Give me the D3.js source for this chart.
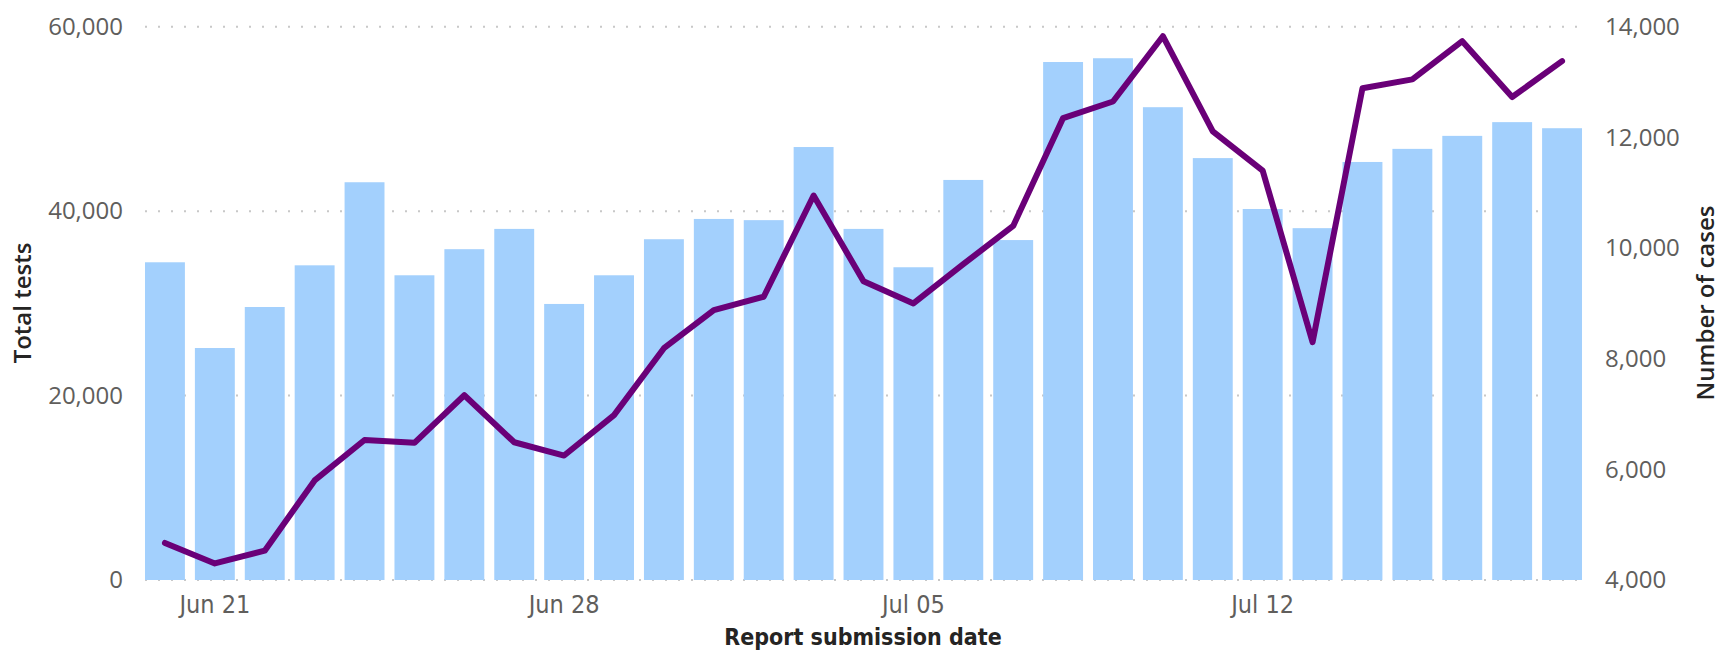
<!DOCTYPE html>
<html>
<head>
<meta charset="utf-8">
<script src="https://d3js.org/d3.v7.min.js"></script>
<style>
  body { margin: 0; background: #ffffff; }
  .tick text { fill: #605E5C; }
</style>
</head>
<body>
<div id="chart"></div>
<script>
// data
var dates = ["Jun 20", "Jun 21", "Jun 22", "Jun 23", "Jun 24", "Jun 25", "Jun 26", "Jun 27",
             "Jun 28", "Jun 29", "Jun 30", "Jul 01", "Jul 02", "Jul 03", "Jul 04", "Jul 05",
             "Jul 06", "Jul 07", "Jul 08", "Jul 09", "Jul 10", "Jul 11", "Jul 12", "Jul 13",
             "Jul 14", "Jul 15", "Jul 16", "Jul 17", "Jul 18"];

var totalTests = [34460, 25160, 29610, 34130, 43140, 33050, 35880, 38080, 29940, 33050,
                  36960, 39160, 39030, 46960, 38080, 33920, 43390, 36870, 56180, 56590,
                  51280, 45760, 40240, 38160, 45340, 46760, 48170, 49660, 49000];

var numberOfCases = [4670, 4300, 4530, 5800, 6530, 6480, 7340, 6490, 6250, 6980,
                     8190, 8880, 9120, 10950, 9400, 9000, 9710, 10400, 12350, 12650,
                     13830, 12110, 11400, 8300, 12890, 13050, 13740, 12730, 13380];

var xTickLabels = ["Jun 21", "Jun 28", "Jul 05", "Jul 12"];
var testTicks = [0, 20000, 40000, 60000];
var caseTicks = [4000, 6000, 8000, 10000, 12000, 14000];

var global_width = 1731,
    global_height = 653;

var svg = d3.select("div#chart")
            .append("svg")
            .attr("width", global_width)
            .attr("height", global_height);

//Scales
var xScale = d3.scaleBand()
               .domain(dates)
               .range([140, 1587])
               .paddingInner(0.2)
               .paddingOuter(0.1);

var yTests = d3.scaleLinear().domain([0, 60000]).range([580, 26.8]),
    yCases = d3.scaleLinear().domain([4000, 14000]).range([580, 26.8]);

//Dotted gridlines (behind the bars)
svg.append("g")
   .attr("id", "grid")
   .selectAll("line")
   .data(testTicks)
   .enter()
   .append("line")
   .attr("x1", 145)
   .attr("x2", 1584)
   .attr("y1", function(d){ return yTests(d); })
   .attr("y2", function(d){ return yTests(d); })
   .attr("stroke", "#C8C8C8")
   .attr("stroke-width", 2)
   .attr("stroke-dasharray", "2,11");

//Bars
svg.append("g")
   .attr("id", "bars")
   .selectAll("rect")
   .data(totalTests)
   .enter()
   .append("rect")
   .attr("x", function(d, i){ return xScale(dates[i]); })
   .attr("y", function(d){ return yTests(d); })
   .attr("width", xScale.bandwidth())
   .attr("height", function(d){ return yTests(0) - yTests(d); })
   .attr("fill", "#A3D0FD");

//Cases line
var casesLine = d3.line()
                  .x(function(d, i){ return xScale(dates[i]) + xScale.bandwidth() / 2; })
                  .y(function(d){ return yCases(d); });

svg.append("path")
   .datum(numberOfCases)
   .attr("d", casesLine)
   .attr("fill", "none")
   .attr("stroke", "#6A0078")
   .attr("stroke-width", 6)
   .attr("stroke-linejoin", "round")
   .attr("stroke-linecap", "round");

//Axes
var leftAxis = d3.axisLeft(yTests)
                 .tickValues(testTicks)
                 .tickSize(0)
                 .tickPadding(17)
                 .tickFormat(d3.format(","));

var rightAxis = d3.axisRight(yCases)
                  .tickValues(caseTicks)
                  .tickSize(0)
                  .tickPadding(18)
                  .tickFormat(d3.format(","));

var bottomAxis = d3.axisBottom(xScale)
                   .tickValues(xTickLabels)
                   .tickSize(0)
                   .tickPadding(15);

svg.append("g")
   .attr("id", "y-axis-left")
   .attr("transform", "translate(140,0)")
   .call(leftAxis)
   .call(function(g){ g.select(".domain").remove(); })
   .selectAll("text")
   .style("font-family", "'Open Sans', sans-serif")
   .style("font-size", "24px");

svg.append("g")
   .attr("id", "y-axis-right")
   .attr("transform", "translate(1587,0)")
   .call(rightAxis)
   .call(function(g){ g.select(".domain").remove(); })
   .selectAll("text")
   .style("font-family", "'Open Sans', sans-serif")
   .style("font-size", "24px");

svg.append("g")
   .attr("id", "x-axis")
   .attr("transform", "translate(0,580)")
   .call(bottomAxis)
   .call(function(g){ g.select(".domain").remove(); })
   .selectAll("text")
   .style("font-family", "'DejaVu Sans Condensed', 'DejaVu Sans', sans-serif")
   .style("font-size", "25px");

//Axis titles
svg.append("text")
   .attr("transform", "translate(31,303) rotate(-90)")
   .attr("text-anchor", "middle")
   .attr("fill", "#252423")
   .style("font-family", "'Open Sans', sans-serif")
   .style("font-size", "24px")
   .style("font-weight", 600)
   .text("Total tests");

svg.append("text")
   .attr("transform", "translate(1714,303) rotate(-90)")
   .attr("text-anchor", "middle")
   .attr("fill", "#252423")
   .style("font-family", "'Open Sans', sans-serif")
   .style("font-size", "24px")
   .style("font-weight", 600)
   .text("Number of cases");

svg.append("text")
   .attr("x", 863)
   .attr("y", 645)
   .attr("text-anchor", "middle")
   .attr("fill", "#252423")
   .style("font-family", "'DejaVu Sans Condensed', 'DejaVu Sans', sans-serif")
   .style("font-size", "23px")
   .style("font-weight", "bold")
   .text("Report submission date");
</script>
</body>
</html>
